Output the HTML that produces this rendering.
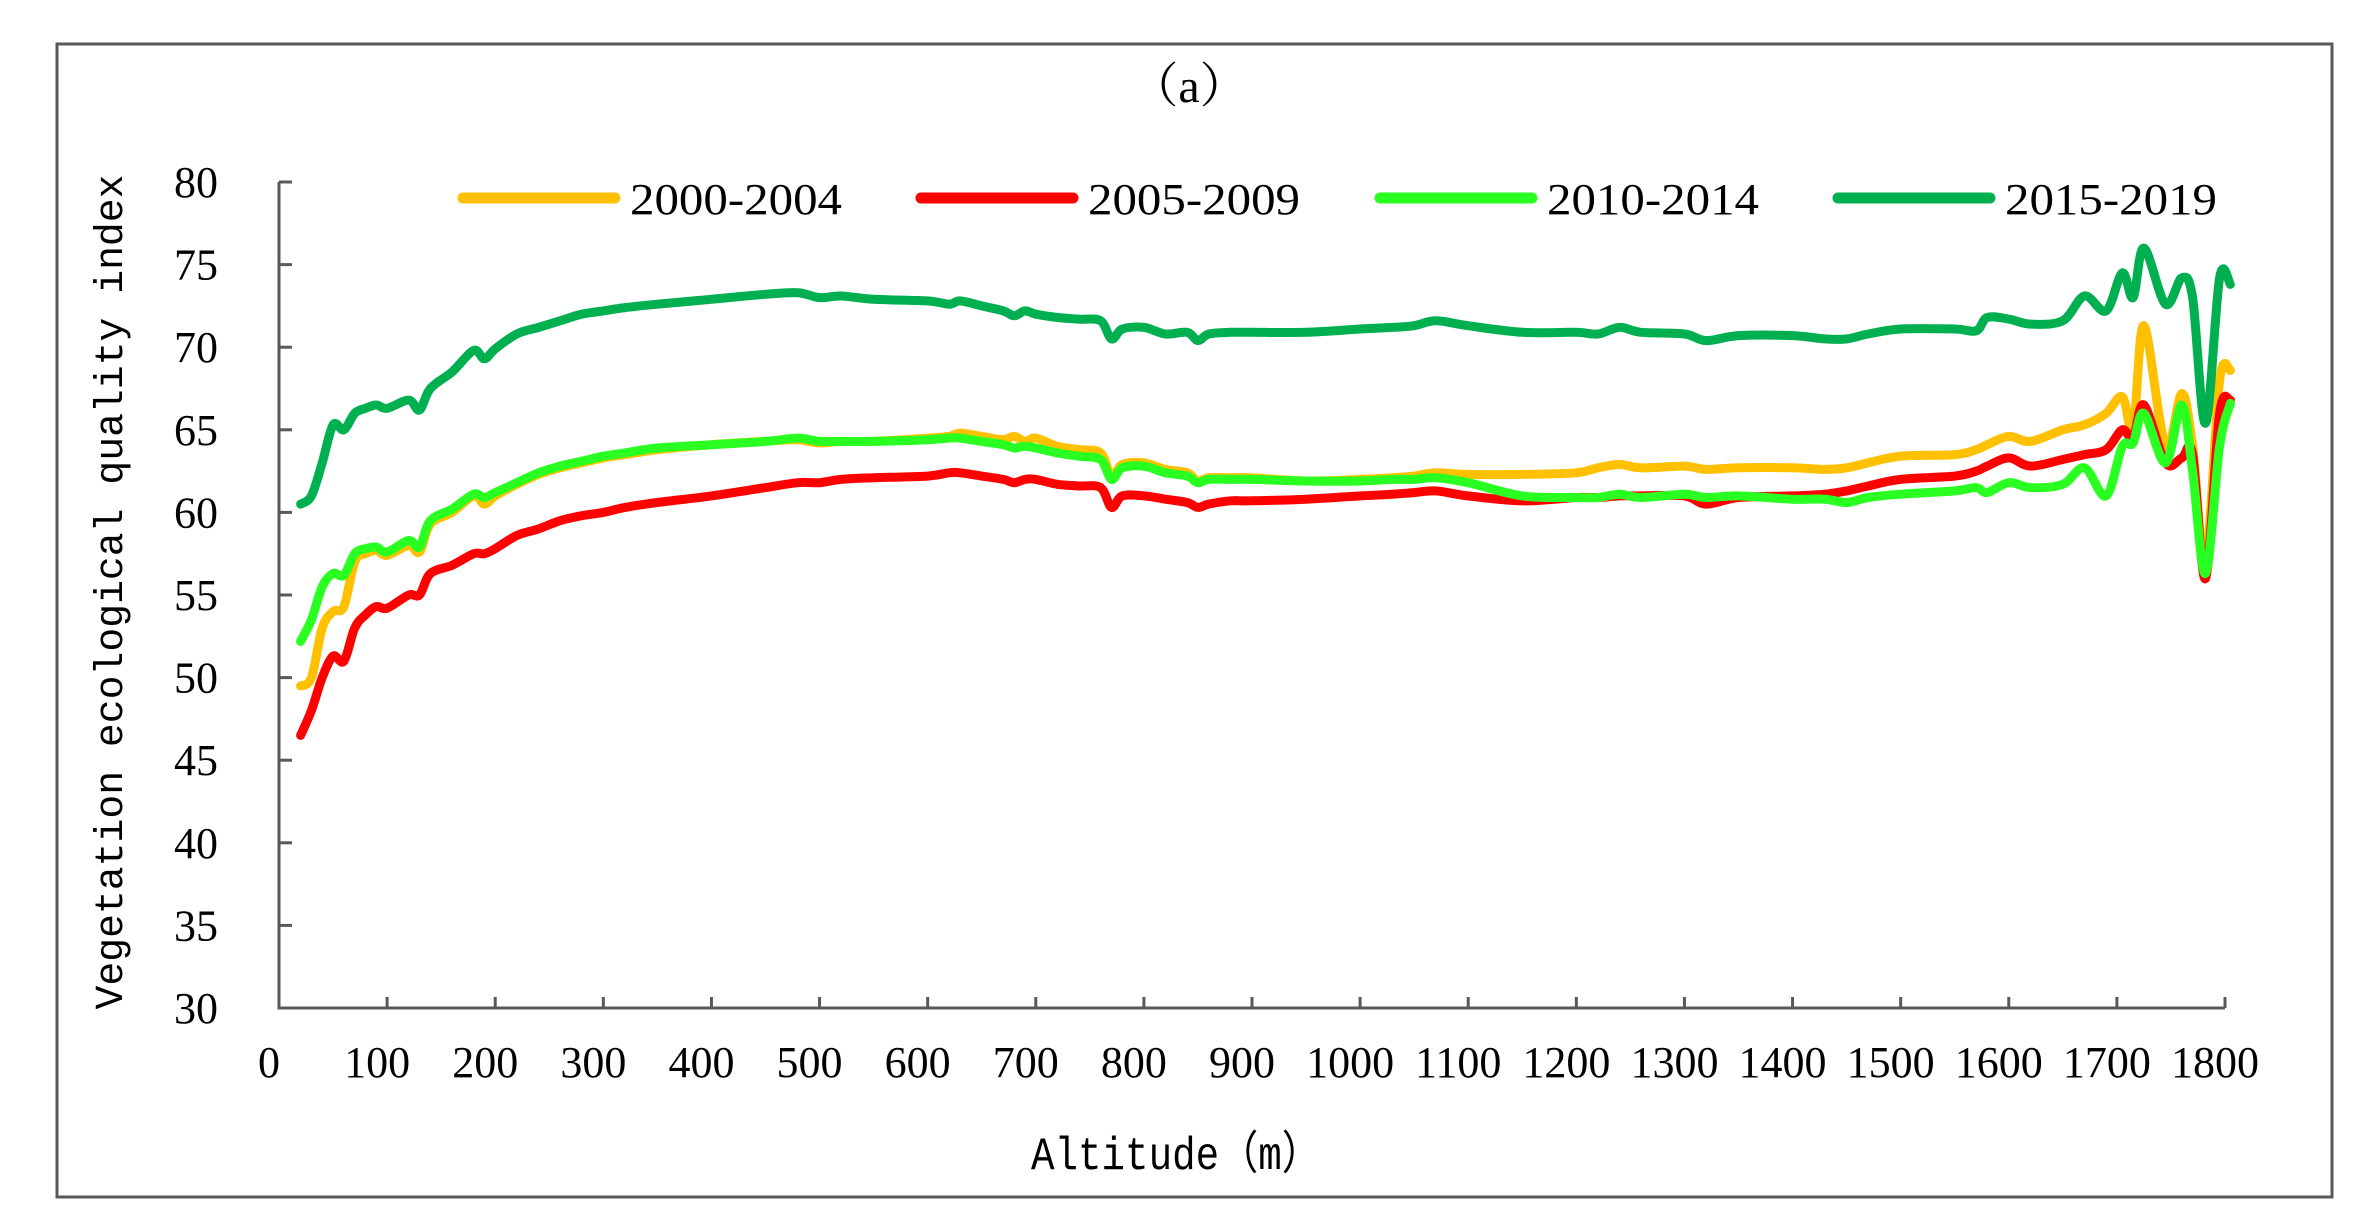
<!DOCTYPE html>
<html><head><meta charset="utf-8"><style>
html,body{margin:0;padding:0;background:#fff}
svg{display:block}
text{font-family:"Liberation Serif","Noto Serif CJK SC",serif;fill:#000}
</style></head><body>
<svg id="chart" width="2380" height="1232" viewBox="0 0 2380 1232" xmlns="http://www.w3.org/2000/svg">
<rect x="57" y="44" width="2275" height="1153" fill="#fff" stroke="#595959" stroke-width="3"/>
<text x="1189" y="102" font-size="48" text-anchor="middle" font-family="'Liberation Serif','Noto Serif CJK SC',serif">（a）</text>
<g id="axes"></g>
<g id="series"></g>
<g id="legend"></g>
<text transform="translate(122,592) rotate(-90)" font-size="40" text-anchor="middle" textLength="835" lengthAdjust="spacingAndGlyphs" style="font-family:'Liberation Mono',monospace">Vegetation ecological quality index</text>
<text x="1176" y="1169" font-size="46" text-anchor="middle" textLength="290" lengthAdjust="spacingAndGlyphs" style="font-family:'Liberation Mono','Noto Sans CJK SC',monospace">Altitude（m）</text>
</svg>
<script>
const altitudes=[20,30,40,50,60,70,80,90,100,120,130,140,160,180,190,200,220,240,260,280,300,320,350,400,450,480,500,520,550,600,620,630,650,670,680,690,700,720,740,760,770,780,800,820,840,850,860,880,900,950,1000,1030,1050,1070,1100,1150,1200,1220,1240,1260,1300,1320,1350,1400,1430,1450,1470,1500,1550,1570,1580,1600,1620,1650,1670,1690,1705,1715,1725,1745,1760,1770,1782,1795,1805];
const s2000=[49.5,50,53,54,54.3,57,57.5,57.7,57.4,58,57.6,59.3,60,61,60.5,61,61.7,62.3,62.7,63,63.3,63.5,63.8,64.1,64.3,64.4,64.2,64.3,64.3,64.5,64.6,64.8,64.6,64.4,64.6,64.3,64.5,64,63.8,63.6,62.2,62.9,63,62.6,62.4,61.9,62.1,62.1,62.1,61.9,62,62.1,62.2,62.4,62.3,62.3,62.4,62.7,62.9,62.7,62.8,62.6,62.7,62.7,62.6,62.7,63,63.4,63.5,63.8,64.1,64.6,64.3,65,65.3,66,67,65,71.3,64,67.2,64,57,68,68.6];
const s2005=[46.5,48,50,51.3,51,53,53.8,54.3,54.2,55,55,56.3,56.8,57.5,57.5,57.8,58.6,59,59.5,59.8,60,60.3,60.6,61,61.5,61.8,61.8,62,62.1,62.2,62.4,62.4,62.2,62,61.8,62,62,61.7,61.6,61.5,60.3,61,61,60.8,60.6,60.3,60.5,60.7,60.7,60.8,61,61.1,61.2,61.3,61,60.7,60.9,60.9,61,61,61,60.5,60.9,61,61.1,61.3,61.6,62,62.2,62.5,62.8,63.3,62.8,63.2,63.5,63.8,65,64.5,66.5,63,63.3,63.5,56,66,66.8];
const s2010=[52.2,53.5,55.5,56.3,56.2,57.5,57.8,57.9,57.6,58.3,57.9,59.5,60.2,61.1,60.9,61.2,61.8,62.4,62.8,63.1,63.4,63.6,63.9,64.1,64.3,64.5,64.3,64.3,64.3,64.4,64.5,64.5,64.3,64.1,63.9,64,63.9,63.6,63.4,63.2,62,62.7,62.8,62.4,62.2,61.8,62,62,62,61.9,61.9,62,62,62.1,61.8,61,60.9,60.9,61.1,60.9,61.1,60.9,61,60.8,60.8,60.6,60.9,61.1,61.3,61.5,61.2,61.8,61.5,61.7,62.7,61,64,64.2,66,63,66.5,62.5,56.3,64,66.6];
const s2015=[60.5,61,63,65.3,65,66,66.3,66.5,66.3,66.8,66.2,67.5,68.5,69.8,69.3,69.9,70.8,71.2,71.6,72,72.2,72.4,72.6,72.9,73.2,73.3,73,73.1,72.9,72.8,72.6,72.8,72.5,72.2,71.9,72.2,72,71.8,71.7,71.6,70.5,71.1,71.2,70.8,70.9,70.4,70.8,70.9,70.9,70.9,71.1,71.2,71.3,71.6,71.3,70.9,70.9,70.8,71.2,70.9,70.8,70.4,70.7,70.7,70.5,70.5,70.8,71.1,71.1,71,71.8,71.7,71.4,71.6,73.1,72.2,74.5,73,76,72.6,74.2,73,65.4,74.2,73.8];
const seriesNames=["2000-2004","2005-2009","2010-2014","2015-2019"];
const yTicks=[30,35,40,45,50,55,60,65,70,75,80];
const xTicks=[0,100,200,300,400,500,600,700,800,900,1000,1100,1200,1300,1400,1500,1600,1700,1800];

const NS="http://www.w3.org/2000/svg";
const X0=279,X1=2225,Y0=1008,Y1=182;
function xs(v){return X0+(v-0)/(1800-0)*(X1-X0);}
function ys(v){return Y0-(v-30)/(80-30)*(Y0-Y1);}
function mk(tag,attrs,parent){const e=document.createElementNS(NS,tag);for(const k in attrs)e.setAttribute(k,attrs[k]);parent.appendChild(e);return e;}
const axes=document.getElementById('axes');
const ax=mk('path',{d:`M${X0},${Y1} V${Y0} H${X1}`,fill:'none',stroke:'#595959','stroke-width':3},axes);


yTicks.forEach(t=>{
  const y=ys(t);
  const l=mk('line',{x1:X0,x2:X0+13,y1:y,y2:y,stroke:'#595959','stroke-width':3},axes);
  
  
  const tx=mk('text',{x:218,y:y+15,'font-size':44,'text-anchor':'end'},axes);
  tx.textContent=t;
  
  
});
xTicks.forEach(t=>{
  const x=xs(t);
  const l=mk('line',{x1:x,x2:x,y1:Y0,y2:Y0-11,stroke:'#595959','stroke-width':3},axes);
  
  
  const tx=mk('text',{x:x-10,y:1077,'font-size':44,'text-anchor':'middle'},axes);
  tx.textContent=t;
  
  
});
function smooth(pts){
  let d=`M${pts[0][0].toFixed(1)},${pts[0][1].toFixed(1)}`;
  for(let i=0;i<pts.length-1;i++){
    const p0=pts[Math.max(0,i-1)],p1=pts[i],p2=pts[i+1],p3=pts[Math.min(pts.length-1,i+2)];
    const c1=[p1[0]+(p2[0]-p0[0])/6,p1[1]+(p2[1]-p0[1])/6];
    const c2=[p2[0]-(p3[0]-p1[0])/6,p2[1]-(p3[1]-p1[1])/6];
    d+=` C${c1[0].toFixed(1)},${c1[1].toFixed(1)} ${c2[0].toFixed(1)},${c2[1].toFixed(1)} ${p2[0].toFixed(1)},${p2[1].toFixed(1)}`;
  }
  return d;
}
const colors=["#FFC000","#FF0000","#2AFF22","#00B050"];
const data=[s2000,s2005,s2010,s2015];
const sg=document.getElementById('series');
data.forEach((vals,i)=>{
  const pts=altitudes.map((a,j)=>[xs(a),ys(vals[j])]);
  const p=mk('path',{d:smooth(pts),fill:'none',stroke:colors[i],'stroke-width':9,'stroke-linejoin':'round','stroke-linecap':'round'},sg);
  
  
});
const lg=document.getElementById('legend');
const lx=[463,921,1380,1838];
seriesNames.forEach((n,i)=>{
  const g=mk('g',{},lg);
  
  
  const l=mk('line',{x1:lx[i],x2:lx[i]+152,y1:198,y2:198,stroke:colors[i],'stroke-width':11,'stroke-linecap':'round'},g);
  
  
  const t=mk('text',{x:lx[i]+167,y:214,'font-size':44,textLength:212,lengthAdjust:'spacingAndGlyphs'},g);
  t.textContent=n;
  
  
});
</script>
</body></html>
